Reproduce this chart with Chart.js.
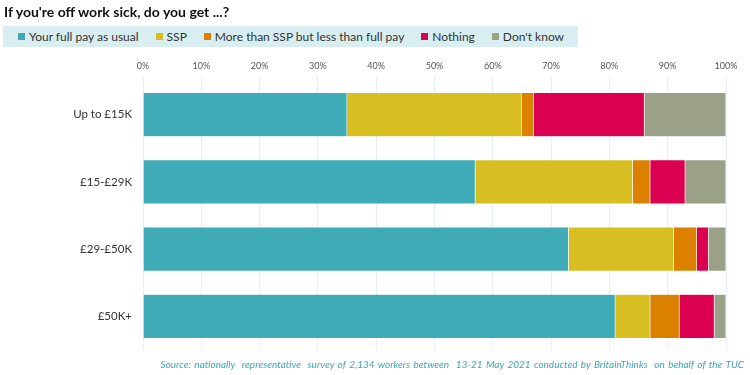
<!DOCTYPE html>
<html>
<head>
<meta charset="utf-8">
<script src="https://cdn.jsdelivr.net/npm/chart.js@4"></script>
<style>
  body { margin: 0; width: 750px; height: 375px; background: #fff; position: relative; overflow: hidden; font-family: Lato, "Open Sans", sans-serif; }
  #title { position: absolute; left: 4px; top: 3px; font-size: 14px; font-weight: bold; color: #111; }
  #legend { position: absolute; left: 3px; top: 26px; width: 575px; height: 21px; background: #d8eef1; display: flex; align-items: center; font-size: 12px; color: #333; padding-left: 15px; box-sizing: border-box; }
  #legend span.item { display: inline-flex; align-items: center; margin-right: 17px; white-space: nowrap; }
  #legend i { display: inline-block; width: 7px; height: 7px; margin-right: 4px; }
  #source { position: absolute; right: 6px; top: 358px; font-size: 10px; font-style: italic; color: #3ba7b4; word-spacing: 1px; }
  #wrap { position: absolute; left: 0; top: 0; width: 750px; height: 375px; }
</style>
</head>
<body>
<div id="wrap"><canvas id="chart"></canvas></div>
<div id="title">If you're off work sick, do you get ...?</div>
<div id="legend"></div>
<div id="source">Source: nationally&nbsp; representative&nbsp; survey of 2,134 workers between&nbsp; 13-21 May 2021 conducted by BritainThinks&nbsp; on behalf of the TUC</div>
<script>
// Data
const categories = ['Up to £15K', '£15-£29K', '£29-£50K', '£50K+'];
const seriesNames = ['Your full pay as usual', 'SSP', 'More than SSP but less than full pay', 'Nothing', "Don't know"];
const fullPay = [35, 57, 73, 81];
const ssp = [30, 27, 18, 6];
const moreThanSsp = [2, 3, 4, 5];
const nothing = [19, 6, 2, 6];
const dontKnow = [14, 7, 3, 2];
const tickValues = [0, 10, 20, 30, 40, 50, 60, 70, 80, 90, 100];

const colors = ['#3fabb7', '#d7bf22', '#dc8000', '#dc0050', '#9ba186'];
const seriesData = [fullPay, ssp, moreThanSsp, nothing, dontKnow];

// HTML legend
const legendEl = document.getElementById('legend');
seriesNames.forEach((name, i) => {
    const item = document.createElement('span');
    item.className = 'item';
    item.innerHTML = `<i style="background:${colors[i]}"></i>${name}`;
    legendEl.appendChild(item);
});

const ctx = document.getElementById('chart').getContext('2d');
new Chart(ctx, {
    type: 'bar',
    data: {
        labels: categories,
        datasets: seriesNames.map((name, i) => ({
            label: name,
            data: seriesData[i],
            backgroundColor: colors[i],
            borderColor: 'rgba(255,255,255,0.5)',
            borderWidth: 0.5,
            barPercentage: 0.66,
            categoryPercentage: 1
        }))
    },
    options: {
        indexAxis: 'y',
        responsive: true,
        maintainAspectRatio: false,
        animation: false,
        layout: { padding: { top: 55, right: 24, bottom: 25, left: 0 } },
        plugins: {
            legend: { display: false },
            tooltip: { enabled: false }
        },
        scales: {
            x: {
                position: 'top',
                stacked: true,
                min: 0,
                max: 100,
                afterBuildTicks: (axis) => { axis.ticks = tickValues.map(v => ({ value: v })); },
                afterFit: (axis) => { axis.height = 26; },
                grid: { color: '#e4f1f3', drawTicks: true, tickLength: 4 },
                border: { display: false },
                ticks: {
                    color: '#555',
                    font: { family: 'Lato', size: 9 },
                    padding: 6,
                    callback: (v) => v + '%'
                }
            },
            y: {
                stacked: true,
                afterFit: (axis) => { axis.width = 143; },
                grid: { display: false },
                border: { display: false },
                ticks: {
                    color: '#333',
                    font: { family: 'Lato', size: 11.5 },
                    padding: 3
                }
            }
        }
    }
});
</script>
</body>
</html>
